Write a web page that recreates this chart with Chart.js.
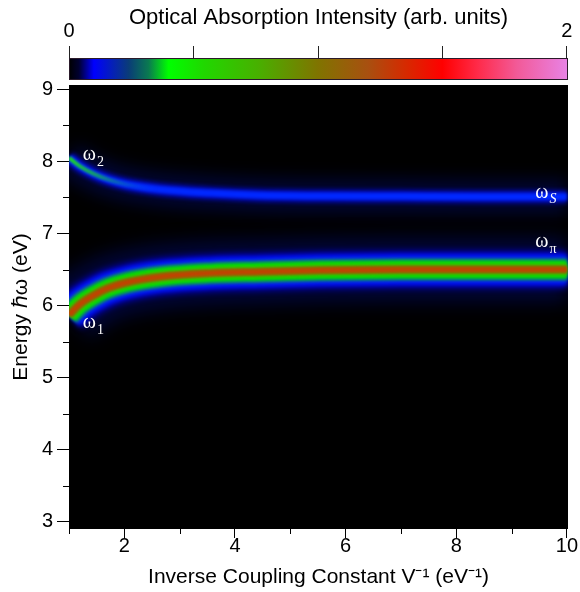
<!DOCTYPE html>
<html>
<head>
<meta charset="utf-8">
<script src="https://cdn.jsdelivr.net/npm/chart.js@4.4.1/dist/chart.umd.min.js"></script>
<style>
  html, body { margin: 0; padding: 0; background: #fff; }
  #wrap { width: 580px; height: 592px; }
</style>
</head>
<body>
<div id="wrap"><canvas id="absorb" width="580" height="592"></canvas></div>
<script>
// inverse coupling constant V^-1 (eV^-1)
const invCoupling = [1.0, 1.2, 1.44, 1.7, 2.04, 2.65, 3.55, 4.45, 5.54, 7.0, 8.5, 10.0];
// absorption peak positions (eV)
const omega1 = [5.87, 6.02, 6.14, 6.24, 6.32, 6.40, 6.45, 6.47, 6.49, 6.50, 6.50, 6.50];
const omega2 = [8.05, 7.93, 7.83, 7.75, 7.68, 7.61, 7.56, 7.53, 7.52, 7.515, 7.51, 7.51];

const xMajorTicks = [2, 4, 6, 8, 10];
const xMinorTicks = [1, 3, 5, 7, 9];
const yMajorTicks = [3, 4, 5, 6, 7, 8, 9];
const yMinorTicks = [3.5, 4.5, 5.5, 6.5, 7.5, 8.5];
const cbTicks = [0, 0.5, 1, 1.5, 2];
const cbLabels = [0, 2];

const peakNames = ['2', '1', 'S', 'π'];
const peakSpots = [[1.25, 8.09], [1.25, 5.76], [9.43, 7.57], [9.43, 6.88]];

// colour map of the intensity bar
const cmap = [
  [0, '#000000'], [0.02, '#000030'], [0.05, '#0000ff'], [0.12, '#0a3c78'],
  [0.16, '#0a7a50'], [0.2, '#00ff00'], [0.27, '#20d800'], [0.38, '#48b000'],
  [0.5, '#807400'], [0.6, '#a85010'], [0.68, '#d82800'], [0.75, '#ff0000'],
  [0.82, '#ff2a48'], [0.9, '#f25a98'], [1, '#e882e4']
];

const FONT = "'Liberation Sans', Arial, sans-serif";

function pts(vals) {
  return invCoupling.map((x, i) => ({x: x, y: vals[i]}));
}

function layer(vals, color, width, blur) {
  return {data: pts(vals), borderColor: color, borderWidth: width, blur: blur,
          pointRadius: 0, fill: false};
}

// green core on the left part of the upper branch
function fadeGreen(c) {
  const chart = c.chart;
  if (!chart.chartArea) return 'rgba(0,0,0,0)';
  const xs = chart.scales.x;
  const g = chart.ctx.createLinearGradient(xs.getPixelForValue(1), 0, xs.getPixelForValue(2.6), 0);
  g.addColorStop(0, 'rgba(30,220,30,1)');
  g.addColorStop(0.35, 'rgba(20,170,90,0.8)');
  g.addColorStop(1, 'rgba(0,60,255,0)');
  return g;
}

// chart.js paints the first dataset last, so cores come first
const datasets = [
  // lower branch (strong)
  layer(omega1, '#c04400', 4.5, 1),
  layer(omega1, '#8a6a00', 8, 1.2),
  layer(omega1, '#38c000', 12, 1.5),
  layer(omega1, '#00e000', 18, 1.5),
  layer(omega1, '#0a6a90', 23, 1.5),
  layer(omega1, '#0018ff', 30, 2),
  layer(omega1, '#0000b8', 37, 3),
  layer(omega1, 'rgba(0,10,110,0.5)', 64, 9),
  // upper branch (weak)
  Object.assign(layer(omega2, '#00c040', 4, 1.2), {borderColor: fadeGreen}),
  layer(omega2, '#0028ff', 7, 1.5),
  layer(omega2, '#0008b0', 13, 2),
  layer(omega2, 'rgba(0,10,110,0.45)', 34, 8)
];

const bgPlugin = {
  id: 'bg',
  beforeDatasetsDraw(chart) {
    const a = chart.chartArea, ctx = chart.ctx;
    ctx.save();
    ctx.fillStyle = '#000';
    ctx.fillRect(a.left, a.top, a.right - a.left, a.bottom - a.top);
    ctx.restore();
  },
  beforeDatasetDraw(chart, args) {
    const ds = chart.data.datasets[args.index];
    chart.ctx.save();
    chart.ctx.filter = 'blur(' + (ds.blur || 0) + 'px)';
  },
  afterDatasetDraw(chart) {
    chart.ctx.restore();
  }
};

const decoPlugin = {
  id: 'deco',
  afterDraw(chart) {
    const ctx = chart.ctx, a = chart.chartArea;
    const xs = chart.scales.x, ys = chart.scales.y, cs = chart.scales.c;
    ctx.save();
    ctx.strokeStyle = '#000';
    ctx.lineWidth = 1;
    // minor ticks
    ctx.beginPath();
    xMinorTicks.forEach(v => {
      const px = Math.round(xs.getPixelForValue(v)) + 0.5;
      ctx.moveTo(px, a.bottom); ctx.lineTo(px, a.bottom + 5);
    });
    yMinorTicks.forEach(v => {
      const py = Math.round(ys.getPixelForValue(v)) + 0.5;
      ctx.moveTo(a.left - 6, py); ctx.lineTo(a.left, py);
    });
    ctx.stroke();

    // colour bar
    const barBottom = a.top - 5, barTop = a.top - 27;
    const l = cs.getPixelForValue(0), r = a.right;
    const g = ctx.createLinearGradient(l, 0, cs.getPixelForValue(2), 0);
    cmap.forEach(s => g.addColorStop(s[0], s[1]));
    ctx.fillStyle = g;
    ctx.fillRect(l, barTop, r - l, barBottom - barTop);
    ctx.strokeStyle = '#2a1a2a';
    ctx.strokeRect(l + 0.5, barTop + 0.5, r - l - 1, barBottom - barTop - 1);
    ctx.strokeStyle = '#222';
    ctx.beginPath();
    cbTicks.forEach(v => {
      const px = Math.min(Math.round(cs.getPixelForValue(v)) + 0.5, r - 1.5);
      ctx.moveTo(px, barTop); ctx.lineTo(px, barTop - 12);
    });
    ctx.stroke();

    // peak labels
    ctx.fillStyle = '#fff';
    ctx.textBaseline = 'middle';
    ctx.textAlign = 'left';
    peakSpots.forEach((p, i) => {
      const px = xs.getPixelForValue(p[0]), py = ys.getPixelForValue(p[1]);
      ctx.font = "20px 'Liberation Serif', serif";
      ctx.fillText('ω', px, py);
      const w = ctx.measureText('ω').width;
      ctx.font = (peakNames[i] === 'S' ? 'italic ' : '') + "14px 'Liberation Serif', serif";
      ctx.fillText(peakNames[i], px + w + 1, py + 7);
    });
    ctx.restore();
  }
};

new Chart(document.getElementById('absorb').getContext('2d'), {
  type: 'line',
  data: {datasets: datasets},
  plugins: [bgPlugin, decoPlugin],
  options: {
    responsive: false,
    animation: false,
    layout: {padding: {left: 0, right: 12, top: 0, bottom: 0}},
    plugins: {legend: {display: false}, tooltip: {enabled: false}},
    elements: {line: {cubicInterpolationMode: 'monotone', borderCapStyle: 'butt'}, point: {radius: 0}},
    scales: {
      x: {
        type: 'linear', min: 1, max: 10.02,
        afterBuildTicks: s => { s.ticks = xMajorTicks.map(v => ({value: v})); },
        afterFit: s => { s.height = 63; },
        grid: {drawOnChartArea: false, tickLength: 9, color: '#000'},
        border: {display: false},
        ticks: {color: '#000', font: {family: FONT, size: 20}, padding: -4, maxRotation: 0, autoSkip: false},
        title: {display: true, text: 'Inverse Coupling Constant V⁻¹ (eV⁻¹)', color: '#000',
                font: {family: FONT, size: 21}, padding: {top: 0, bottom: 2}}
      },
      y: {
        type: 'linear', min: 2.9, max: 9.06,
        afterBuildTicks: s => { s.ticks = yMajorTicks.map(v => ({value: v})); },
        afterFit: s => { s.width = 69; },
        grid: {drawOnChartArea: false, tickLength: 12, color: '#000'},
        border: {display: false},
        ticks: {color: '#000', font: {family: FONT, size: 20}, padding: 4, autoSkip: false},
        title: {display: true, text: 'Energy ℏω (eV)', color: '#000',
                font: {family: FONT, size: 21}, padding: {top: 9, bottom: 0}}
      },
      c: {
        type: 'linear', axis: 'x', position: 'top', min: 0, max: 2.005,
        afterBuildTicks: s => { s.ticks = cbLabels.map(v => ({value: v})); },
        afterFit: s => { s.height = 85; },
        grid: {drawOnChartArea: false, drawTicks: true, tickLength: 40, tickColor: 'rgba(0,0,0,0)'},
        border: {display: false},
        ticks: {color: '#000', font: {family: FONT, size: 20}, padding: 2, maxRotation: 0, autoSkip: false},
        title: {display: true, text: 'Optical Absorption Intensity (arb. units)', color: '#000',
                font: {family: FONT, size: 22}, padding: {top: 5, bottom: 0}}
      }
    }
  }
});
</script>
</body>
</html>
